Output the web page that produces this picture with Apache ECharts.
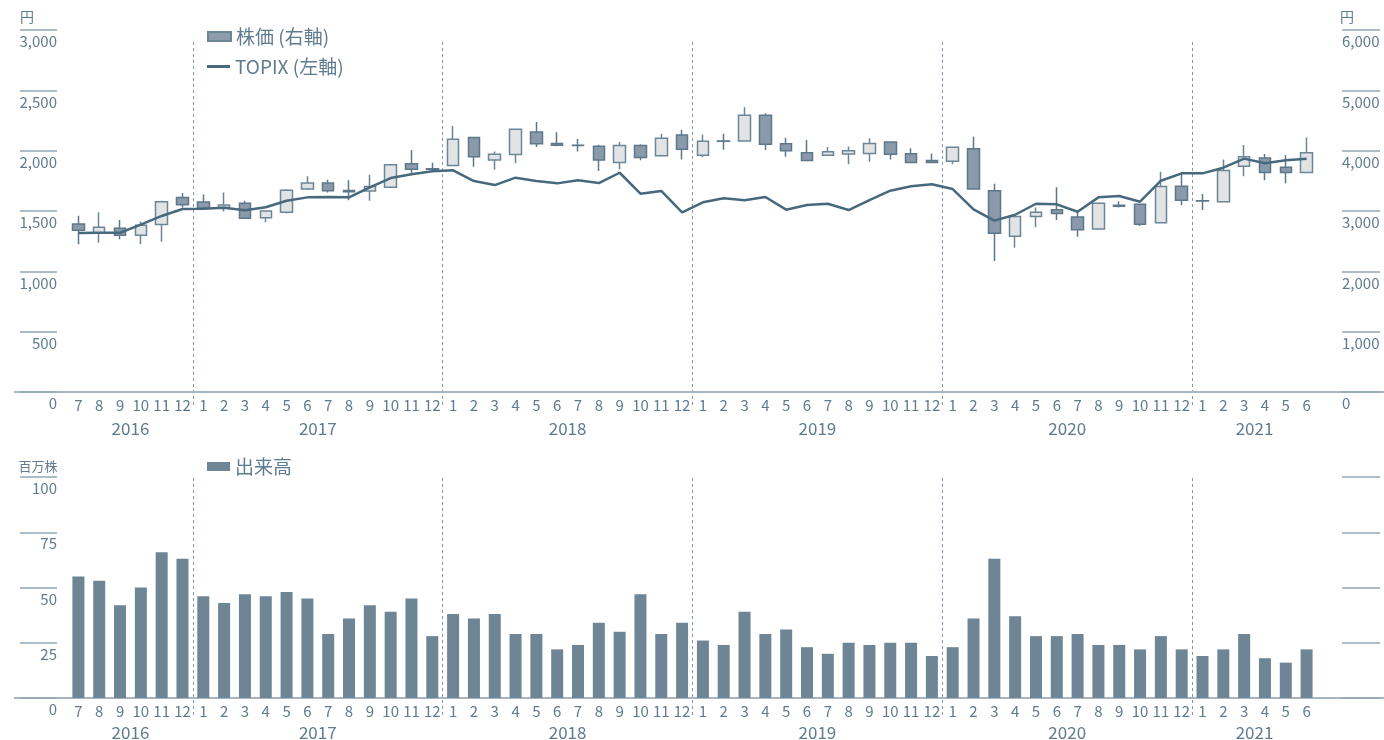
<!DOCTYPE html>
<html>
<head>
<meta charset="utf-8">
<title>株価とTOPIX・出来高</title>
<script src="https://cdn.jsdelivr.net/npm/echarts@6/dist/echarts.min.js"></script>
<style>
  html, body { margin: 0; padding: 0; background: #ffffff; }
  #chart { width: 1384px; height: 740px; }
</style>
</head>
<body>
<div id="chart"></div>
<script>
// Monthly categories (year/month)
const categories = [
  '2016/7','2016/8','2016/9','2016/10','2016/11','2016/12',
  '2017/1','2017/2','2017/3','2017/4','2017/5','2017/6','2017/7','2017/8','2017/9','2017/10','2017/11','2017/12',
  '2018/1','2018/2','2018/3','2018/4','2018/5','2018/6','2018/7','2018/8','2018/9','2018/10','2018/11','2018/12',
  '2019/1','2019/2','2019/3','2019/4','2019/5','2019/6','2019/7','2019/8','2019/9','2019/10','2019/11','2019/12',
  '2020/1','2020/2','2020/3','2020/4','2020/5','2020/6','2020/7','2020/8','2020/9','2020/10','2020/11','2020/12',
  '2021/1','2021/2','2021/3','2021/4','2021/5','2021/6'
];
const years = ['2016', '2017', '2018', '2019', '2020', '2021'];

// Share price, monthly candles (円, right axis)
const priceOpen = [
  2785, 2630, 2715, 2600, 2775, 3225,
  3150, 3060, 3130, 2890, 2980, 3365, 3465, 3340, 3330, 3395, 3785, 3700,
  3755, 4220, 3845, 3935, 4310, 4120, 4090, 4075, 3805, 4085, 3915, 4260,
  3925, 4160, 4160, 4585, 4115, 3965, 3925, 3945, 3955, 4145, 3950, 3835,
  3825, 4030, 3335, 2580, 2910, 3020, 2900, 2700, 3095, 3110, 2805, 3410,
  3170, 3155, 3740, 3880, 3725, 3640
];
const priceClose = [
  2680, 2730, 2600, 2765, 3155, 3105,
  3045, 3100, 2880, 3000, 3345, 3465, 3335, 3320, 3405, 3765, 3690, 3690,
  4190, 3900, 3940, 4355, 4115, 4090, 4085, 3845, 4085, 3885, 4205, 4025,
  4155, 4155, 4585, 4105, 4000, 3835, 3980, 4000, 4120, 3940, 3805, 3805,
  4055, 3365, 2630, 2910, 2980, 2960, 2690, 3130, 3080, 2780, 3405, 3180,
  3165, 3670, 3900, 3640, 3640, 3965
];
const priceLow = [
  2450, 2475, 2530, 2450, 2490, 3060,
  3015, 2990, 2875, 2815, 2960, 3350, 3305, 3180, 3170, 3380, 3595, 3645,
  3740, 3735, 3685, 3790, 4060, 4075, 3985, 3665, 3690, 3840, 3910, 3855,
  3890, 4015, 4150, 4010, 3900, 3830, 3920, 3775, 3815, 3855, 3800, 3790,
  3775, 3360, 2170, 2390, 2730, 2850, 2575, 2695, 3060, 2750, 2800, 3095,
  3015, 3150, 3575, 3510, 3460, 3630
];
const priceHigh = [
  2920, 2980, 2850, 2825, 3170, 3300,
  3275, 3305, 3170, 3010, 3360, 3575, 3520, 3510, 3600, 3780, 4010, 3800,
  4410, 4225, 3985, 4365, 4475, 4305, 4195, 4100, 4145, 4105, 4280, 4345,
  4270, 4280, 4720, 4620, 4215, 4175, 4060, 4070, 4205, 4150, 4040, 3955,
  4060, 4230, 3450, 2920, 3060, 3395, 2995, 3140, 3160, 3115, 3650, 3645,
  3280, 3855, 4095, 3945, 3930, 4220
];

// TOPIX, month-end (left axis)
const topix = [
  1318, 1320, 1320, 1387, 1459, 1517,
  1519, 1527, 1506, 1531, 1585, 1613, 1616, 1613, 1696, 1773, 1804, 1829,
  1837, 1748, 1715, 1776, 1748, 1729, 1754, 1732, 1817, 1643, 1666, 1489,
  1572, 1605, 1589, 1616, 1511, 1550, 1560, 1508, 1591, 1668, 1705, 1721,
  1682, 1514, 1420, 1469, 1560, 1555, 1494, 1613, 1624, 1577, 1751, 1812,
  1812, 1859, 1934, 1895, 1920, 1934
];

// Trading volume (百万株)
const volume = [
  55, 53, 42, 50, 66, 63,
  46, 43, 47, 46, 48, 45, 29, 36, 42, 39, 45, 28,
  38, 36, 38, 29, 29, 22, 24, 34, 30, 47, 29, 34,
  26, 24, 39, 29, 31, 23, 20, 25, 24, 25, 25, 19,
  23, 36, 63, 37, 28, 28, 29, 24, 24, 22, 28, 22,
  19, 22, 29, 18, 16, 22
];

// Axis scales
const topixAxis = { min: 0, max: 3000, interval: 500 };
const priceAxis = { min: 0, max: 6000, interval: 1000 };
const volumeAxis = { min: 0, max: 100, interval: 25 };

const FONT = '"Noto Sans CJK JP", "Noto Sans", sans-serif';
const TEXT = '#5f7b8f';
const BASE = '#a6b6c2';
const TICK = '#93a8b6';
const DASH = '#7f97a8';
const LINE = '#47697e';
const BAR = '#6e8595';

const monthOf = c => String(c).split('/')[1];
const isJanuary = i => categories[i] !== undefined && monthOf(categories[i]) === '1';
const fmt = v => Number(v).toLocaleString('en-US');

const PLOT = { left: 68, right: 67 };

function monthAxis(gridIndex) {
  return {
    type: 'category', gridIndex, data: categories,
    axisLine: { show: false }, axisTick: { show: false }, splitLine: { show: false },
    axisLabel: { interval: 0, formatter: monthOf, color: TEXT, fontSize: 15, margin: 6 }
  };
}
// Dashed year separators between December and January
function separatorAxis(gridIndex) {
  return {
    type: 'category', gridIndex, data: categories,
    axisLine: { show: false }, axisTick: { show: false }, axisLabel: { show: false },
    splitLine: {
      show: true, showMinLine: true, showMaxLine: false,
      interval: (i) => isJanuary(i),
      lineStyle: { color: DASH, width: 1, type: [3, 3] }
    }
  };
}
function sideAxis(gridIndex, scale, position, showLabels) {
  const left = position === 'left';
  return {
    type: 'value', gridIndex, position, ...scale,
    offset: left ? 11 : 25,
    axisLine: { show: false },
    axisTick: { show: true, length: left ? 37 : 38, lineStyle: { color: TICK, width: 1.5 } },
    splitLine: { show: false },
    axisLabel: {
      show: showLabels, color: TEXT, fontSize: 15, margin: 0,
      verticalAlign: 'top', padding: [4, 0, 0, 0], formatter: fmt
    }
  };
}

const chart = echarts.init(document.getElementById('chart'), null, { renderer: 'canvas' });

const legendText = { color: TEXT, fontSize: 19, fontFamily: FONT };

const option = {
  animation: false,
  backgroundColor: '#ffffff',
  textStyle: { fontFamily: FONT },
  legend: [
    { data: [{ name: '株価 (右軸)', icon: 'rect', itemStyle: { color: '#8c9cab' } }],
      left: 207, top: 27, padding: 0, itemWidth: 23, itemHeight: 9, selectedMode: false, textStyle: legendText },
    { data: [{ name: 'TOPIX (左軸)', icon: 'rect', itemStyle: { color: LINE } }],
      left: 207, top: 57, padding: 0, itemWidth: 23, itemHeight: 3, selectedMode: false, textStyle: legendText },
    { data: [{ name: '出来高', icon: 'rect', itemStyle: { color: BAR } }],
      left: 207, top: 457, padding: 0, itemWidth: 23, itemHeight: 9, selectedMode: false, textStyle: legendText }
  ],
  grid: [
    { ...PLOT, top: 30, height: 362 },   // price / TOPIX
    { ...PLOT, top: 477, height: 221 },  // volume
    { ...PLOT, top: 42, height: 366 },   // year separators, upper panel
    { ...PLOT, top: 478, height: 237 }   // year separators, lower panel
  ],
  xAxis: [monthAxis(0), monthAxis(1), separatorAxis(2), separatorAxis(3)],
  yAxis: [
    sideAxis(0, topixAxis, 'left', true),
    sideAxis(0, priceAxis, 'right', true),
    sideAxis(1, volumeAxis, 'left', true),
    sideAxis(1, volumeAxis, 'right', false),
    { type: 'value', gridIndex: 2, show: false },
    { type: 'value', gridIndex: 3, show: false }
  ],
  series: [
    {
      name: '株価 (右軸)', type: 'candlestick', xAxisIndex: 0, yAxisIndex: 1,
      barWidth: 12,
      data: categories.map((_, i) => [priceOpen[i], priceClose[i], priceLow[i], priceHigh[i]]),
      itemStyle: {
        color: '#e1e3e5', color0: '#8a9aaa',
        borderColor: '#6c8698', borderColor0: '#5e788b', borderWidth: 1.5
      },
      z: 2
    },
    {
      name: 'TOPIX (左軸)', type: 'line', xAxisIndex: 0, yAxisIndex: 0,
      data: topix, symbol: 'none', lineStyle: { color: LINE, width: 2.5 },
      itemStyle: { color: LINE }, z: 3
    },
    {
      name: '出来高', type: 'bar', xAxisIndex: 1, yAxisIndex: 2,
      data: volume, barWidth: 12, itemStyle: { color: BAR }
    }
  ]
};

chart.setOption(option);

// Baselines, unit captions and year captions under the month labels
function textEl(id, text, x, y, size, align) {
  return {
    type: 'text', id, silent: true, z: 10,
    style: { text, x, y, fill: TEXT, font: size + 'px ' + FONT, textAlign: align || 'center', textVerticalAlign: 'middle' }
  };
}
const graphics = [
  { type: 'line', id: 'base-top', silent: true, shape: { x1: 14, y1: 392, x2: 1384, y2: 392 }, style: { stroke: BASE, lineWidth: 2 } },
  { type: 'line', id: 'base-bottom', silent: true, shape: { x1: 14, y1: 698, x2: 1384, y2: 698 }, style: { stroke: BASE, lineWidth: 2 } },
  textEl('unit-left', '円', 27, 17, 14),
  textEl('unit-right', '円', 1347, 17, 14),
  textEl('unit-vol', '百万株', 38, 466, 13)
];
years.forEach((y, k) => {
  const idx = categories.map((c, i) => c.startsWith(y + '/') ? i : -1).filter(i => i >= 0);
  const x0 = chart.convertToPixel({ xAxisIndex: 0 }, idx[0]);
  const x1 = chart.convertToPixel({ xAxisIndex: 0 }, idx[idx.length - 1]);
  const cx = (x0 + x1) / 2;
  graphics.push(textEl('year-top-' + k, y, cx, 429, 17));
  graphics.push(textEl('year-bottom-' + k, y, cx, 733, 17));
});
chart.setOption({ graphic: graphics });
</script>
</body>
</html>
